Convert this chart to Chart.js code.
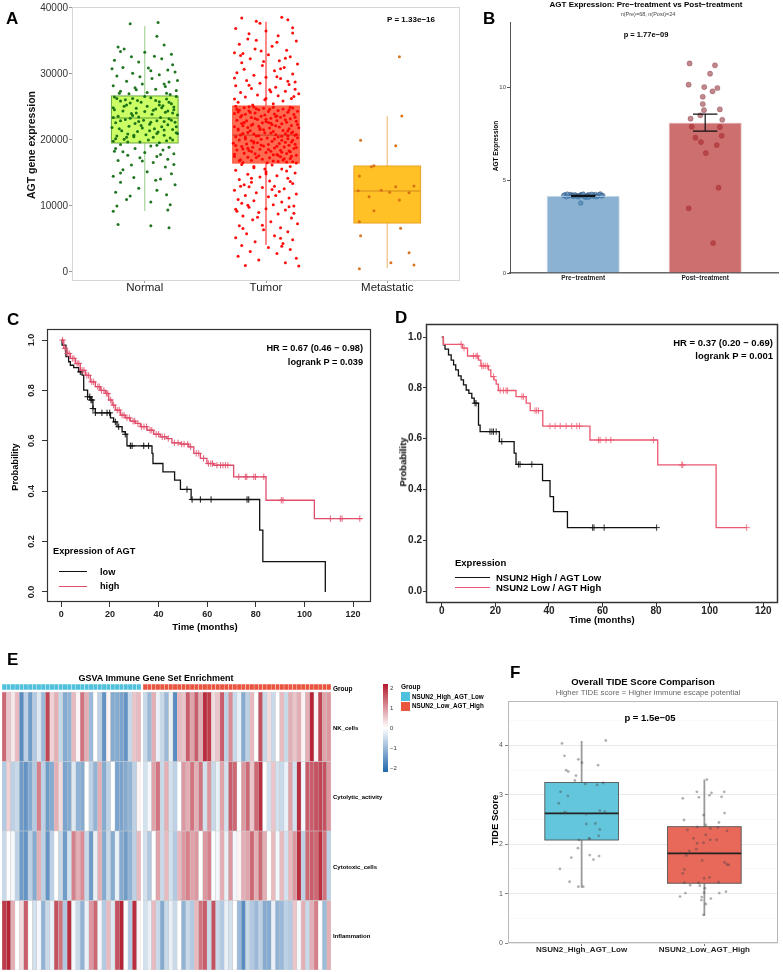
<!DOCTYPE html>
<html>
<head>
<meta charset="utf-8">
<script src="https://cdn.jsdelivr.net/npm/chart.js@4.4.1/dist/chart.umd.min.js"></script>
<style>
  html, body { margin: 0; padding: 0; background: #fff; }
  #fig { position: relative; width: 783px; height: 972px; overflow: hidden; font-family: 'Liberation Sans', Arial, Helvetica, sans-serif; }
  canvas { position: absolute; }
  .t { position: absolute; white-space: nowrap; line-height: 1; }
  .sw { position: absolute; }
</style>
</head>
<body>
<div id="fig"></div>
<script>
'use strict';

// ---------- data ----------
// A: expression by tissue, jitter points are [offset from group centre, value]
var groupsA = ['Normal', 'Tumor', 'Metastatic'];
var yTicksA = [0, 10000, 20000, 30000, 40000];
var aQ1 = [19550, 16500, 7420];
var aMed = [23330, 20750, 12270];
var aQ3 = [26670, 25150, 16060];
var aLo = [9240, 4100, 600];
var aHi = [37270, 37900, 23600];

var normalPts = [[-.12,37600],[.11,37800],[.1,35700],[-.22,34100],[-.17,33800],[-.2,33400],[.0,33300],[.16,34400],[.08,32700],[-.25,32100],[.14,32300],[-.05,31800],[.23,31400],[-.18,31000],[-.27,30800],[.19,30600],[.03,30900],[-.1,30100],[.25,30300],[-.23,29700],[.12,29900],[.06,29300],[-.15,28900],[.2,28800],[-.02,28500],[-.26,28200],[.17,28100],[.09,27700],[-.08,27900],[-.2,27400],[.26,27500],[.02,27200],[-.13,27000],[.21,26900],[-.04,29600],
  [-.25,26500],[-.1,26300],[.05,26400],[.18,26200],[.26,26600],[-.2,25900],[-.03,25700],[.12,25800],[.22,25500],[-.15,25300],[.02,25100],[.15,25200],[-.26,24900],[-.07,24800],[.09,24700],[.24,24600],[-.18,24400],[.0,24300],[.17,24200],[-.11,24000],[.06,23900],[.27,23800],[-.22,23600],[-.05,23500],[.13,23400],[.2,23200],[-.16,23100],[-.01,23000],[.1,22900],[.25,22700],[-.24,22600],[-.08,22500],[.04,22400],[.19,22300],[-.13,22100],[.14,22000],[-.27,21900],[-.02,21800],[.08,21700],[.23,21600],[-.19,21400],[-.06,21300],[.11,21200],[.26,21100],[-.14,20900],[.01,20800],[.16,20700],[-.23,20600],[-.09,20500],[.07,20400],[.21,20300],[-.17,20100],[.03,20000],[.18,19900],[-.26,19800],[-.04,19700],[.12,19600],[.24,25000],[-.12,25600],[.09,26000],[-.2,22900],[.16,21500],[-.07,24100],[.22,23000],[-.24,20200],[.05,22700],[-.1,23700],[.14,24900],[-.16,26100],[.27,21000],
  [-.23,26300],[-.06,26000],[.2,25700],[-.17,25100],[.07,24500],[.23,24100],[-.26,23400],[-.12,23300],[.16,22800],[-.03,22200],[.26,22000],[-.21,21700],[.1,21000],[-.09,20700],[.23,20000],[-.14,19700],[.04,21400],[-.25,24600],[.12,25300],[.0,26600],[-.05,22800],[.19,24400],[-.15,20400],
  [.16,28500],[-.21,27100],[.05,30500],[-.11,32600],[.22,33000],[.18,27100],[-.07,27600],[.27,29000],
  [-.2,19300],[.05,19100],[.2,18900],[-.08,18700],[.15,18500],[-.25,18300],[.0,18100],[.24,17900],[-.14,17700],[.1,17500],[-.04,17300],[.19,17100],[-.22,16900],[.07,16600],[-.11,16200],[.17,15900],[-.18,15500],[.02,15200],[.22,14900],[-.26,14500],[-.09,14300],[.13,14100],[-.2,13600],[.25,13200],[-.05,12700],[.1,12400],[-.24,12100],[.18,11700],[-.15,11000],[.05,10600],[.21,10200],[-.23,10000],[-.26,9200],[.19,9400],[-.22,7200],[.05,7000],[.2,6700],
  [-.18,18200],[.13,17800],[-.02,16800],[.24,16300],[-.2,15000],[.09,13900],[-.12,11500],[-.24,18700],[.1,19200]];

var tumorPts = [[-.2,38500],[.13,38600],[.18,38200],[-.05,37700],[-.25,36900],[.22,37000],[.0,36500],[.1,35800],[-.15,35300],[.25,35000],[-.22,34500],[.05,34200],[-.09,33800],[.17,33600],[-.26,33200],[.02,32900],[.2,32600],[-.13,32300],[.11,32000],[-.2,31700],[.26,31500],[-.03,31300],[.15,31000],[-.18,30700],[.07,30500],[-.24,30200],[.22,30000],[-.1,29800],[.0,29500],[.12,29300],[-.16,29000],[.24,28800],[-.05,28600],[.19,28400],[-.25,28200],[.08,28000],[-.12,27800],[.03,27600],[.16,27400],[-.21,27200],[.27,27000],[-.07,26800],[.1,26700],[-.17,26500],[.21,26300],[-.01,26100],[.14,25900],[-.23,25700],[.06,25500],[-.11,25300],[.18,28900],[-.19,33100],[.09,34800],[-.02,31900],[.23,26600],[-.14,36100],[.04,27300],[-.26,29400],[.16,32400],[-.08,35100],
  [-.08,38000],[.22,36200],[-.21,32800],[.12,30800],[-.14,28300],[.24,27700],[.0,26300],[-.26,26200],[.09,29600],[-.04,33500],
  [-.25,25100],[-.18,24900],[-.1,25000],[-.02,24800],[.06,24950],[.14,24700],[.22,24850],[-.22,24500],[-.14,24400],[-.06,24600],[.02,24300],[.1,24450],[.18,24200],[.26,24350],[-.26,24000],[-.17,23900],[-.09,24100],[-.01,23800],[.07,23950],[.15,23700],[.23,23850],[-.21,23500],[-.12,23400],[-.04,23600],[.04,23300],[.12,23450],[.2,23200],[-.24,23000],[-.16,22900],[-.07,23100],[.0,22800],[.09,22950],[.17,22700],[.25,22850],[-.2,22500],[-.11,22400],[-.03,22600],[.05,22300],[.13,22450],[.21,22200],[-.26,22000],[-.15,21900],[-.06,22100],[.03,21800],[.11,21950],[.19,21700],[.27,21850],[-.23,21500],[-.13,21400],[-.05,21600],[.06,21300],[.14,21450],[.22,21200],[-.19,21000],[-.1,20900],[-.01,21100],[.08,20800],[.16,20950],[.24,20700],[-.25,20500],[-.17,20400],[-.08,20600],[.01,20300],[.1,20450],[.18,20200],[.26,20350],[-.22,20000],[-.12,19900],[-.04,20100],[.05,19800],[.13,19950],[.21,19700],[-.27,19500],[-.16,19400],[-.07,19600],[.02,19300],[.11,19450],[.19,19200],[-.2,19000],[-.11,18900],[-.02,19100],[.07,18800],[.15,18950],[.23,18700],[-.24,18500],[-.14,18400],[-.05,18600],[.04,18300],[.12,18450],[.2,18200],[-.18,18000],[-.09,17900],[.0,18100],[.09,17800],[.17,17950],[.25,17700],[-.26,17500],[-.15,17400],[-.06,17600],[.03,17300],[.12,17450],[.2,17200],[-.21,17000],[-.12,16900],[-.03,17100],[.06,16800],[.14,16950],[.22,16700],[-.19,16600],[.01,16550],[.17,16650],[-.08,24750],[.09,23650],[-.19,22150],[.21,21050],[-.1,19750],[.13,18150],[-.23,24250],[.04,22550],[.18,20650],[-.15,18750],[.0,23150],[.24,19350],[-.05,21750],[.1,17650],
  [-.24,24650],[-.13,24150],[.03,24650],[.19,24550],[-.2,23700],[.08,23550],[.24,23450],[-.09,23250],[.16,23050],[-.18,22650],[.02,22650],[.26,22350],[-.12,22250],[.08,22150],[-.23,21650],[-.02,21550],[.18,21350],[-.15,21150],[.04,21050],[.25,20850],[-.21,20750],[-.06,20650],[.13,20550],[-.17,20150],[.07,20150],[.22,19950],[-.1,19550],[.16,19650],[-.25,19150],[-.04,19250],[.09,19050],[.25,18850],[-.19,18650],[.02,18550],[.19,18350],[-.12,18250],[-.26,17850],[.06,17750],[.21,17550],[-.08,17350],[.15,17150],[-.22,16850],[.1,16750],[-.14,25050],[.2,24950],
  [-.2,16300],[.05,16200],[.2,16000],[-.1,15800],[.13,15600],[-.25,15400],[.0,15200],[.24,15000],[-.15,14800],[.09,14600],[-.05,14400],[.18,14200],[-.22,14000],[.03,13800],[-.12,13600],[.22,13400],[-.18,13200],[.07,13000],[-.03,12800],[.15,12600],[-.26,12400],[.11,12200],[-.08,12000],[.25,11800],[-.17,11600],[.02,11400],[.19,11200],[-.23,11000],[-.1,10800],[.13,10600],[-.2,10400],[.06,10200],[.23,10000],[-.14,9800],[.0,9600],[.16,9400],[-.24,9200],[-.06,9000],[.1,8800],[-.19,8500],[.21,8200],[-.11,7900],[.04,7600],[.26,7300],[-.22,7000],[.12,6700],[-.02,6400],[.18,6100],[-.16,5800],[.07,5500],[-.25,5200],[.22,4900],[-.09,4600],[.14,4300],[-.2,4000],[.02,3700],[.2,3400],[-.13,3100],[.09,2800],[-.23,2400],[.25,2100],[-.06,1800],[.16,1400],[-.17,1000],[.27,900],[.0,14900],[-.14,12900],[.19,9900],[-.07,8300],[.12,5100],
  [-.1,16000],[.17,15300],[-.21,13000],[.08,11600],[-.15,10100],[.23,8900],[-.03,7100],[.13,3900],[-.19,6600],[.05,12500],[.2,13700],[-.25,9500],[-.01,15600],[.25,16500],[-.12,14200]];

var metPts = [[.1,32620],[.12,23640],[-.22,19950],[.07,19140],[-.11,16110],[-.13,15960],[-.23,14550],[-.24,12320],[-.05,12380],[.07,12920],[.22,13030],[.02,12070],[.18,12020],[-.15,11410],[.1,10910],[-.11,9290],[-.23,7620],[.11,6620],[-.22,5500],[.18,2920],[.03,1410],[.22,1060],[-.23,500]];

// B: pre vs post treatment
var groupsB = ['Pre\u2212treatment', 'Post\u2212treatment'];
var bMean = [4.15, 8.09];
var bLow = [4.12, 7.63];
var bHigh = [4.18, 8.55];
var yTicksB = [0, 5, 10];
var prePts = [[-.15,4.2],[-.12,4.14],[-.1,4.22],[-.08,4.12],[-.06,4.18],[-.04,4.1],[-.02,4.2],[0,4.15],[.02,4.08],[.04,4.2],[.06,4.13],[.08,4.18],[.1,4.22],[.12,4.15],[.14,4.25],[.16,4.17],[-.14,4.1],[-.11,4.18],[-.07,4.2],[-.03,4.16],[.01,4.11],[.05,4.19],[.09,4.12],[.13,4.2],[-.13,4.24],[-.09,4.15],[-.05,4.12],[-.01,4.21],[.03,4.14],[.07,4.23],[.11,4.1],[.15,4.14],[-.02,3.76],[-.16,4.16],[0,4.24],[.04,4.06]];
var postPts = [[-.128,11.27],[.08,11.17],[.04,10.72],[-.136,10.13],[-.008,10.0],[.1,9.95],[.06,9.77],[-.02,9.48],[-.02,9.09],[-.01,8.76],[.12,8.8],[-.04,8.48],[-.12,8.3],[.14,8.24],[-.11,7.87],[.12,7.85],[-.08,7.28],[.135,7.38],[-.035,7.04],[.095,6.88],[.005,6.45],[.11,4.59],[-.135,3.48],[.065,1.61]];

// C: KM by AGT expression
var kmTicksX = [0, 20, 40, 60, 80, 100, 120];
var kmTicksY = [0, 0.2, 0.4, 0.6, 0.8, 1];
var cLowT = [0,0.3,1.9,3.0,3.7,5.1,7.1,8.5,9.2,10.8,12.2,13.0,14.0,20.2,21.5,22.9,25.0,26.3,27.0,37.3,37.7,41.8,46.6,49.0,53.4,81.6,82.9,108.6];
var cLowS = [1,0.98,0.934,0.914,0.9,0.891,0.874,0.861,0.801,0.775,0.762,0.728,0.711,0.691,0.675,0.656,0.636,0.626,0.58,0.55,0.51,0.477,0.444,0.407,0.367,0.245,0.12,0];
var cLowCens = [7.8,10.8,11.7,12.2,12.6,13.0,14.0,16.7,18.8,19.9,22.2,23.6,26.3,28.4,29.1,33.9,35.9,51.7,53.8,57.2,61.6,76.4,77.1];
var cHighT = [0,1.0,2.3,3.7,5.8,7.8,9.9,11.9,14.0,16.0,18.1,19.5,20.9,22.2,24.3,26.3,28.4,30.5,32.5,35.3,38.0,40.7,43.5,45.5,49.0,52.4,54.5,57.2,59.9,62.7,70.9,84.2,104.1,123.7];
var cHighS = [1,0.967,0.947,0.927,0.907,0.88,0.86,0.834,0.815,0.80,0.788,0.762,0.742,0.722,0.702,0.691,0.678,0.669,0.656,0.642,0.626,0.616,0.609,0.592,0.587,0.576,0.55,0.53,0.51,0.503,0.457,0.364,0.291,0.291];
var cHighCens = [0.5,1.5,2.5,3.2,4.5,5.2,6.5,7.2,8.5,9.3,10.5,11.2,12.5,13.3,15,15.6,16.5,17.5,18.5,19.1,20.3,21.5,23,23.8,25,25.8,27,28,29.5,30.2,31.5,33,34,35,36.5,37.2,39,40,41.5,42.5,44,46.5,48,49.5,50.5,52,53.2,55.5,56.5,58.5,60.5,61.5,62.2,64,65.5,66.5,67.5,68.5,73,75.7,76.3,79.2,79.9,83.3,90.5,91.2,110.7,114.8,115.5,122.8];

// D: KM by NSUN2/AGT combination
var dLowT = [0,0.6,1.2,2.5,3.5,4.4,5.2,6.2,7.2,8.1,9.1,10.1,11.2,12.1,13.7,14.3,21.5,27.0,27.7,37.6,40.4,41.7,46.9,80.2];
var dLowS = [1,0.97,0.953,0.93,0.91,0.891,0.871,0.848,0.832,0.812,0.792,0.779,0.76,0.74,0.654,0.628,0.589,0.543,0.499,0.435,0.372,0.313,0.25,0.25];
var dLowCens = [12.4,12.8,18.0,18.7,19.3,20.3,22.4,28.6,29.2,33.6,56.3,56.8,60.6,80.2];
var dHighT = [0,0.6,7.7,9.6,13.7,14.6,17.4,18.3,19.5,20.3,21.1,27.7,31.5,33.0,37.7,55.3,80.6,102.4,113.8];
var dHighS = [1,0.972,0.957,0.926,0.91,0.887,0.871,0.845,0.832,0.815,0.79,0.766,0.74,0.711,0.65,0.595,0.497,0.25,0.25];
var dHighCens = [7.2,8.3,11.8,12.8,13.3,14.9,15.5,16.2,17.0,19.3,21.8,23.0,24.0,24.5,29.9,30.5,34.8,35.4,36.1,40.4,42.3,44.2,46.4,48.5,50.4,51.4,58.5,59.1,61.3,63.1,79.0,89.6,89.9,113.8];

// E: GSVA scores, first 32 samples NSUN2_High_AGT_Low, then 44 NSUN2_Low_AGT_High
var heatNames = ['NK_cells', 'Cytolytic_activity', 'Cytotoxic_cells', 'Inflammation'];
var nLowGroup = 32;
var nkCells = [1.3,0.5,0.2,0.6,-1.5,-0.6,-1.3,-0.7,-0.3,-0.9,1.6,0.4,0.7,-0.5,-1.1,-1.0,0.6,0.1,1.2,0.7,-0.9,0.0,-0.6,-1.4,0.1,-1.1,-1.1,-1.2,-1.4,-0.5,0.5,0.6,
  -0.5,-0.9,0.7,-0.2,-0.5,-0.9,-0.2,-1.5,0.6,0.5,1.4,0.8,1.4,0.7,1.8,1.7,0.3,0.5,1.4,-0.6,1.0,-0.5,-0.2,-1.1,-0.6,0.6,0.0,1.5,-0.5,0.3,-0.5,0.0,0.6,-0.5,0.7,0.5,0.7,0.1,0.7,1.9,0.1,1.6,0.8,0.9];
var cytolyticActivity = [-0.7,0.4,-0.6,-0.5,-1.3,-1.4,-1.1,-0.7,1.1,-0.6,-1.3,-1.1,0.7,0.3,-1.2,-1.1,-0.3,-1.0,-1.1,0.0,-0.6,-1.0,0.7,-1.1,-0.6,0.0,-1.2,-1.2,-1.1,-1.0,-0.6,0.1,
  -0.4,-0.1,0.8,1.2,-0.5,0.7,-0.4,-0.6,0.0,0.9,0.7,1.2,0.7,1.2,-0.4,0.9,-0.5,-0.2,0.8,-0.4,1.4,1.3,0.0,0.9,1.3,0.5,1.3,1.8,0.0,-0.4,0.5,-0.4,-0.5,-0.2,0.8,-0.4,1.8,-0.1,1.4,1.4,1.5,1.6,1.5,0.9];
var cytotoxicCells = [-0.5,0.0,-0.1,-0.6,-1.3,-1.4,-0.6,-1.1,0.7,-0.6,-1.4,-0.6,0.0,-0.5,-1.3,-0.4,1.1,0.7,1.0,-0.5,-1.3,-0.2,0.7,-1.1,-0.5,-1.1,-0.2,-1.1,-1.3,-1.0,-0.6,0.6,
  -0.4,-0.7,0.0,0.8,-0.5,0.6,-0.4,-0.7,0.6,0.9,1.1,0.8,0.9,0.0,0.9,1.1,0.0,-0.1,0.7,-0.2,0.9,-0.1,0.1,0.7,0.8,1.3,0.7,1.3,0.7,0.0,0.6,-0.1,0.6,-0.4,0.6,0.9,1.8,-0.6,1.3,1.4,1.3,1.8,1.2,-0.6];
var inflammation = [1.7,1.9,0.7,0.0,0.3,1.4,0.0,-0.4,-0.1,-1.0,-0.5,-0.2,1.5,1.2,-0.7,1.8,-0.1,-0.5,-1.0,-0.2,0.9,1.3,-0.1,-0.7,0.6,-0.3,1.5,1.9,0.0,-0.7,1.8,0.1,
  -0.4,-0.2,0.6,-0.5,-1.1,-0.5,-0.2,-0.5,0.0,-1.0,-0.5,-0.7,0.6,1.2,1.4,-0.5,1.5,-0.5,-0.7,-0.2,-0.4,0.0,-0.9,-1.5,-0.5,-0.7,-0.9,-0.6,-1.1,-1.1,-0.2,-1.0,-0.9,-0.6,-0.7,0.5,-0.1,0.7,-0.5,0.7,1.1,0.0,-0.9,0.7];
var heatRows = [nkCells, cytolyticActivity, cytotoxicCells, inflammation];
var heatLegendTicks = ['2', '1', '0', '\u22121', '\u22122'];

// F: TIDE score
var groupsF = ['NSUN2_High_AGT_Low', 'NSUN2_Low_AGT_High'];
var fQ1 = [2.085, 1.21];
var fMed = [2.625, 1.815];
var fQ3 = [3.25, 2.355];
var fLo = [1.12, 0.553];
var fHi = [4.09, 3.31];
var yTicksF = [0, 0.5, 1, 1.5, 2, 2.5, 3, 3.5, 4, 4.5];
var fLowPts = [[-.16,4.04],[.197,4.10],[-.14,3.79],[-.027,3.72],[.003,3.65],[.134,3.60],[-.126,3.50],[-.109,3.47],[-.046,3.39],[-.055,3.29],[-.172,3.06],[.03,3.22],[.126,3.20],[.175,3.24],[-.112,2.98],[-.186,2.83],[-.14,2.65],[-.175,2.63],[-.126,2.64],[.148,2.68],[.189,2.66],[.038,2.61],[.112,2.42],[.038,2.41],[.148,2.30],[.139,2.17],[.06,2.12],[.066,2.11],[-.022,2.09],[-.03,1.92],[-.084,1.73],[.066,1.78],[.142,1.76],[.096,1.69],[-.177,1.50],[-.098,1.24],[-.027,1.14],[.013,1.14]];
var fHighPts = [[.02,3.31],[-.061,3.06],[.162,3.06],[.058,3.04],[-.176,2.93],[-.045,2.95],[.042,2.99],[.14,2.96],[.165,2.63],[-.007,2.59],[-.166,2.49],[.119,2.44],[.012,2.39],[-.057,2.35],[-.138,2.29],[.05,2.32],[.11,2.34],[.184,2.27],[.012,2.19],[-.089,2.12],[.048,2.09],[.10,2.09],[-.059,2.02],[-.007,2.03],[-.198,1.82],[-.122,1.86],[-.065,1.90],[-.147,1.77],[.039,1.82],[.13,1.82],[.165,1.63],[.184,1.59],[.198,1.58],[-.018,1.67],[-.163,1.49],[-.176,1.41],[.042,1.33],[-.163,1.22],[-.048,1.22],[-.116,1.17],[-.037,1.16],[-.002,1.31],[.116,1.23],[.004,1.11],[-.198,0.94],[-.155,1.01],[-.021,0.93],[.053,0.90],[.121,1.01],[.176,1.04],[-.002,1.02],[-.024,0.87],[.012,0.79],[-.007,0.57]];

// ---------- helpers ----------
var fig = document.getElementById('fig');
var FONT = "'Liberation Sans', Arial, Helvetica, sans-serif";
Chart.defaults.font.family = FONT;

function addText(s, x, y, size, o) {
  o = o || {};
  var d = document.createElement('div');
  d.className = 't';
  d.textContent = s;
  d.style.fontSize = size + 'px';
  d.style.fontWeight = o.bold ? 'bold' : 'normal';
  d.style.color = o.color || '#000';
  d.style.left = x + 'px';
  if (o.rotate) {
    d.style.top = y + 'px';
    d.style.transform = 'translate(-50%,-50%) rotate(-90deg)';
  } else {
    d.style.top = (y - 0.85 * size) + 'px';
    if (o.align === 'center') d.style.transform = 'translateX(-50%)';
    if (o.align === 'right') d.style.transform = 'translateX(-100%)';
  }
  fig.appendChild(d);
}

function addBox(x, y, w, h, bg) {
  var d = document.createElement('div');
  d.className = 'sw';
  d.style.cssText = 'left:' + x + 'px;top:' + y + 'px;width:' + w + 'px;height:' + h + 'px;background:' + bg + ';';
  fig.appendChild(d);
}

function canvasAt(x, y, w, h) {
  var c = document.createElement('canvas');
  c.width = w;
  c.height = h;
  c.style.left = x + 'px';
  c.style.top = y + 'px';
  c.style.width = w + 'px';
  c.style.height = h + 'px';
  fig.appendChild(c);
  return c;
}

function baseOpts(pad, scales) {
  return {
    responsive: false, maintainAspectRatio: false, animation: false, devicePixelRatio: 1,
    layout: { padding: pad },
    plugins: { legend: { display: false }, tooltip: { enabled: false } },
    scales: scales
  };
}

function fixTicks(vals) {
  return function (scale) { scale.ticks = vals.map(function (v) { return { value: v }; }); };
}
function fixWidth(w) { return function (scale) { scale.width = w; }; }
function fixHeight(h) { return function (scale) { scale.height = h; }; }

function framePlugin(color, width) {
  return {
    id: 'frame',
    afterDatasetsDraw: function (chart) {
      var a = chart.chartArea, ctx = chart.ctx;
      ctx.save();
      ctx.strokeStyle = color;
      ctx.lineWidth = width;
      ctx.strokeRect(a.left + 0.5, a.top + 0.5, a.right - a.left - 1, a.bottom - a.top - 1);
      ctx.restore();
    }
  };
}

// box + whisker + median, drawn under the points through the chart scales
function boxPlugin(st) {
  return {
    id: 'boxes',
    beforeDatasetsDraw: function (chart) {
      var ctx = chart.ctx, xs = chart.scales.x, ys = chart.scales.y;
      var hw = xs.getPixelForValue(1 + st.width / 2) - xs.getPixelForValue(1);
      st.q1.forEach(function (q1, i) {
        var cx = xs.getPixelForValue(i + 1);
        var yQ1 = ys.getPixelForValue(q1), yQ3 = ys.getPixelForValue(st.q3[i]), yM = ys.getPixelForValue(st.med[i]);
        ctx.save();
        ctx.strokeStyle = st.whisker[i];
        ctx.lineWidth = st.whiskerWidth;
        ctx.beginPath();
        ctx.moveTo(cx, ys.getPixelForValue(st.lo[i]));
        ctx.lineTo(cx, ys.getPixelForValue(st.hi[i]));
        ctx.stroke();
        ctx.fillStyle = st.fill[i];
        ctx.fillRect(cx - hw, yQ3, 2 * hw, yQ1 - yQ3);
        ctx.strokeStyle = st.stroke[i];
        ctx.lineWidth = st.lineWidth;
        ctx.strokeRect(cx - hw, yQ3, 2 * hw, yQ1 - yQ3);
        ctx.strokeStyle = st.median[i];
        ctx.lineWidth = st.medianWidth;
        ctx.beginPath();
        ctx.moveTo(cx - hw, yM);
        ctx.lineTo(cx + hw, yM);
        ctx.stroke();
        ctx.restore();
      });
    }
  };
}

function jitterSet(list, center, color, r, border) {
  return {
    type: 'scatter',
    data: list.map(function (p) { return { x: center + p[0], y: p[1] }; }),
    pointRadius: r,
    backgroundColor: color, pointBackgroundColor: color,
    borderColor: border || color, pointBorderColor: border || color,
    pointBorderWidth: border ? 0.6 : 0, borderWidth: border ? 0.6 : 0
  };
}

function survAt(ts, ss, t) {
  var s = ss[0];
  for (var i = 0; i < ts.length; i++) { if (ts[i] <= t) s = ss[i]; }
  return s;
}
function stepSet(ts, ss, color) {
  return {
    type: 'line',
    data: ts.map(function (t, i) { return { x: t, y: ss[i] }; }),
    borderColor: color, borderWidth: 1.3, stepped: true, pointRadius: 0, fill: false
  };
}
function censorSet(cs, ts, ss, color) {
  return {
    type: 'scatter',
    data: cs.map(function (t) { return { x: t, y: survAt(ts, ss, t) }; }),
    pointStyle: 'cross', pointRadius: 3.2,
    borderColor: color, pointBorderColor: color, pointBorderWidth: 1, borderWidth: 1
  };
}

function heatColor(v) {
  var k = Math.min(1, Math.abs(v) / 2);
  var a = v < 0 ? [33, 102, 172] : [178, 24, 43];
  return 'rgb(' + a.map(function (c) { return Math.round(255 + (c - 255) * k); }).join(',') + ')';
}

var tickFont = function (size, bold) { return { size: size, weight: bold ? 'bold' : 'normal', lineHeight: 1 }; };

// ---------- A ----------
new Chart(canvasAt(0, 0, 465, 300), {
  type: 'scatter',
  data: { datasets: [
    jitterSet(normalPts, 1, 'rgba(20,110,20,0.95)', 1.5),
    jitterSet(tumorPts, 2, 'rgba(255,0,0,0.95)', 1.5),
    jitterSet(metPts, 3, 'rgba(215,110,20,0.95)', 1.5)
  ] },
  options: baseOpts({ top: 7, right: 5, left: 0, bottom: 0 }, {
    x: { type: 'linear', min: 0.4, max: 3.6, offset: false, afterBuildTicks: fixTicks([1, 2, 3]), afterFit: fixHeight(19),
      ticks: { callback: function (v, i) { return groupsA[i]; }, font: tickFont(11.5), color: '#1a1a1a', padding: -1, autoSkip: false, maxRotation: 0 },
      grid: { drawOnChartArea: false, tickLength: 2, color: '#999' }, border: { display: false } },
    y: { min: -1364, max: 40150, afterBuildTicks: fixTicks(yTicksA), afterFit: fixWidth(72),
      ticks: { callback: function (v) { return String(v); }, font: tickFont(10), color: '#333', padding: 1, autoSkip: false },
      grid: { drawOnChartArea: false, tickLength: 3, color: '#999' }, border: { display: false } }
  }),
  plugins: [boxPlugin({
    q1: aQ1, med: aMed, q3: aQ3, lo: aLo, hi: aHi, width: 0.55,
    fill: ['#ccff66', '#ff6a50', '#ffc125'],
    stroke: ['#6aaa3a', '#ff5a40', '#e9a224'],
    median: ['#5f9e35', '#d8402a', '#d08a1c'],
    whisker: ['#a9d49a', '#ff3b3b', '#f0c080'],
    whiskerWidth: 1.2, lineWidth: 1, medianWidth: 1.2
  }), framePlugin('#d6d6d6', 1)]
});

// ---------- B ----------
new Chart(canvasAt(480, 0, 303, 290), {
  type: 'bar',
  data: { datasets: [
    { type: 'bar', data: bMean.map(function (m, i) { return { x: i + 1, y: m }; }),
      backgroundColor: ['rgba(70,130,180,0.62)', 'rgba(178,34,34,0.65)'],
      borderColor: ['#cfe0ee', '#ecc8c9'], borderWidth: 1, barPercentage: 0.6, categoryPercentage: 1 },
    jitterSet(prePts, 1, 'rgba(95,145,195,0.75)', 2.3, 'rgba(35,70,110,0.85)'),
    jitterSet(postPts, 2, 'rgba(150,55,65,0.6)', 2.6, 'rgba(120,40,50,0.5)')
  ] },
  options: baseOpts({ top: 22, right: 0, left: 0, bottom: 0 }, {
    x: { type: 'linear', min: 0.4, max: 2.6, offset: false, afterBuildTicks: fixTicks([1, 2]), afterFit: fixHeight(17),
      ticks: { callback: function (v, i) { return groupsB[i]; }, font: tickFont(6.5, true), color: '#222', padding: 2, autoSkip: false, maxRotation: 0 },
      grid: { display: false, drawTicks: false, offset: false }, border: { display: true, color: '#666', width: 1.5 } },
    y: { min: 0, max: 13.5, afterBuildTicks: fixTicks(yTicksB), afterFit: fixWidth(30),
      ticks: { font: tickFont(6), color: '#444', padding: 1, autoSkip: false },
      grid: { drawOnChartArea: false, tickLength: 3, color: '#555' }, border: { display: true, color: '#555', width: 1 } }
  }),
  plugins: [{
    id: 'errbars',
    afterDatasetsDraw: function (chart) {
      var ctx = chart.ctx, xs = chart.scales.x, ys = chart.scales.y;
      var cw = xs.getPixelForValue(1.1) - xs.getPixelForValue(1);
      bMean.forEach(function (m, i) {
        var cx = xs.getPixelForValue(i + 1), yl = ys.getPixelForValue(bLow[i]), yh = ys.getPixelForValue(bHigh[i]);
        ctx.save();
        ctx.strokeStyle = '#111';
        ctx.lineWidth = 1.2;
        ctx.beginPath();
        ctx.moveTo(cx, yl); ctx.lineTo(cx, yh);
        ctx.moveTo(cx - cw, yl); ctx.lineTo(cx + cw, yl);
        ctx.moveTo(cx - cw, yh); ctx.lineTo(cx + cw, yh);
        ctx.stroke();
        ctx.restore();
      });
    }
  }]
});

// ---------- C ----------
var redC = 'rgb(224,78,108)';
new Chart(canvasAt(0, 305, 390, 330), {
  type: 'line',
  data: { datasets: [
    stepSet(cHighT, cHighS, redC), censorSet(cHighCens, cHighT, cHighS, 'rgba(226,84,112,0.9)'),
    stepSet(cLowT, cLowS, '#111'), censorSet(cLowCens, cLowT, cLowS, '#111')
  ] },
  options: baseOpts({ top: 24, right: 19, left: 0, bottom: 0 }, {
    x: { type: 'linear', min: -5.9, max: 127.4, afterBuildTicks: fixTicks(kmTicksX), afterFit: fixHeight(33),
      ticks: { callback: function (v) { return String(v); }, font: tickFont(9, true), color: '#222', padding: 3, autoSkip: false, maxRotation: 0 },
      grid: { drawOnChartArea: false, tickLength: 5, color: '#333' }, border: { display: false } },
    y: { min: -0.04, max: 1.044, afterBuildTicks: fixTicks(kmTicksY), afterFit: fixWidth(47),
      ticks: { callback: function (v) { return v.toFixed(1); }, font: tickFont(9, true), color: '#222', padding: 4,
        minRotation: 90, maxRotation: 90, crossAlign: 'center', autoSkip: false },
      grid: { drawOnChartArea: false, tickLength: 5, color: '#333' }, border: { display: false } }
  }),
  plugins: [framePlugin('#333', 1.2)]
});

// ---------- D ----------
var redD = 'rgb(236,88,112)';
new Chart(canvasAt(390, 305, 393, 325), {
  type: 'line',
  data: { datasets: [
    stepSet(dHighT, dHighS, redD), censorSet(dHighCens, dHighT, dHighS, 'rgba(238,100,120,0.85)'),
    stepSet(dLowT, dLowS, '#111'), censorSet(dLowCens, dLowT, dLowS, '#333')
  ] },
  options: baseOpts({ top: 19, right: 5, left: 0, bottom: 0 }, {
    x: { type: 'linear', min: -5.9, max: 125.5, afterBuildTicks: fixTicks(kmTicksX), afterFit: fixHeight(27),
      ticks: { callback: function (v) { return String(v); }, font: tickFont(10, true), color: '#222', padding: -0.5, autoSkip: false, maxRotation: 0 },
      grid: { drawOnChartArea: false, tickLength: 4, color: '#333' }, border: { display: false } },
    y: { min: -0.047, max: 1.052, afterBuildTicks: fixTicks(kmTicksY), afterFit: fixWidth(36),
      ticks: { callback: function (v) { return v.toFixed(1); }, font: tickFont(10, true), color: '#222', padding: 1, autoSkip: false },
      grid: { drawOnChartArea: false, tickLength: 3, color: '#333' }, border: { display: false } }
  }),
  plugins: [framePlugin('#333', 1.5)]
});

// ---------- E ----------
function heatChart(cv, start, end, groupColor) {
  var cols = heatRows[0].slice(start, end).map(function (v, i) { return String(i); });
  var sets = heatRows.map(function (row, r) {
    return {
      data: cols.map(function () { return [3 - r, 4 - r]; }),
      backgroundColor: row.slice(start, end).map(heatColor),
      borderColor: 'rgba(150,150,150,0.4)', borderWidth: 0.5, borderSkipped: false,
      barPercentage: 1, categoryPercentage: 1, grouped: false
    };
  });
  sets.push({
    data: cols.map(function () { return [4.03, 4.115]; }),
    backgroundColor: groupColor, borderColor: 'rgba(255,255,255,0.45)', borderWidth: 0.5, borderSkipped: false,
    barPercentage: 1, categoryPercentage: 1, grouped: false
  });
  return new Chart(cv, {
    type: 'bar',
    data: { labels: cols, datasets: sets },
    options: baseOpts(0, { x: { display: false }, y: { display: false, min: 0, max: 4.115 } })
  });
}
heatChart(canvasAt(2, 684, 139, 286), 0, nLowGroup, '#4fc1dd');
heatChart(canvasAt(143, 684, 188, 286), nLowGroup, heatRows[0].length, '#e9553f');

// ---------- F ----------
new Chart(canvasAt(490, 695, 293, 277), {
  type: 'scatter',
  data: { datasets: [
    jitterSet(fLowPts, 1, 'rgba(70,70,70,0.42)', 1.4),
    jitterSet(fHighPts, 2, 'rgba(70,70,70,0.42)', 1.4)
  ] },
  options: baseOpts({ top: 6, right: 5, left: 0, bottom: 0 }, {
    x: { type: 'linear', min: 0.4, max: 2.6, afterBuildTicks: fixTicks([1, 2]), afterFit: fixHeight(29),
      ticks: { callback: function (v, i) { return groupsF[i]; }, font: tickFont(8, true), color: '#222', padding: -0.7, autoSkip: false, maxRotation: 0 },
      grid: { drawOnChartArea: false, tickLength: 3, color: '#777' }, border: { display: false } },
    y: { min: 0, max: 4.9, afterBuildTicks: fixTicks(yTicksF), afterFit: fixWidth(18),
      ticks: { callback: function (v) { return Number.isInteger(v) ? String(v) : ''; }, font: tickFont(7), color: '#555', padding: 2, autoSkip: false },
      grid: {
        color: function (c) { return Number.isInteger(c.tick.value) ? '#e6e6e6' : '#f3f3f3'; },
        lineWidth: function (c) { return Number.isInteger(c.tick.value) ? 0.9 : 0.5; },
        tickColor: function (c) { return Number.isInteger(c.tick.value) ? '#777' : 'rgba(0,0,0,0)'; },
        tickLength: 3
      }, border: { display: false } }
  }),
  plugins: [boxPlugin({
    q1: fQ1, med: fMed, q3: fQ3, lo: fLo, hi: fHi, width: 0.6,
    fill: ['#63c6dd', '#e8685a'], stroke: ['#555', '#555'], median: ['#222', '#222'], whisker: ['#9a9a9a', '#9a9a9a'],
    whiskerWidth: 1.8, lineWidth: 0.9, medianWidth: 1.6
  }), framePlugin('#b8b8b8', 1)]
});

// ---------- text ----------
addText('A', 6, 24, 17, { bold: true });
addText('AGT gene expression', 31, 145, 10.5, { bold: true, rotate: true, color: '#111' });
addText('P = 1.33e\u221216', 411, 23, 8, { bold: true, align: 'center' });

addText('B', 483, 24, 17, { bold: true });
addText('AGT Expression: Pre\u2212treatment vs Post\u2212treatment', 646, 8, 8, { bold: true, align: 'center' });
addText('n(Pre)=68, n(Post)=24', 648, 17, 5.5, { align: 'center', color: '#444' });
addText('p = 1.77e\u221209', 646, 37.5, 7.5, { bold: true, align: 'center' });
addText('AGT Expression', 496, 146, 6.5, { bold: true, rotate: true });

addText('C', 7, 325, 17, { bold: true });
addText('HR = 0.67 (0.46 \u2212 0.98)', 363, 352, 9.2, { bold: true, align: 'right' });
addText('logrank P = 0.039', 363, 366, 9.2, { bold: true, align: 'right' });
addText('Expression of AGT', 53, 555, 9.2, { bold: true });
addBox(59, 571, 28, 1.3, '#111');
addText('low', 100, 575.5, 9.2, { bold: true });
addBox(59, 585.5, 28, 1.3, redC);
addText('high', 100, 590, 9.2, { bold: true });
addText('Probability', 16, 467, 9.2, { bold: true, rotate: true });
addText('Time (months)', 205, 630, 9.5, { bold: true, align: 'center' });

addText('D', 395, 323, 17, { bold: true });
addText('HR = 0.37 (0.20 \u2212 0.69)', 773, 346, 9.5, { bold: true, align: 'right' });
addText('logrank P = 0.001', 773, 359, 9.5, { bold: true, align: 'right' });
addText('Expression', 455, 566, 9.5, { bold: true });
addBox(455, 576.5, 35, 1.3, '#111');
addText('NSUN2 High / AGT Low', 496, 581, 9.5, { bold: true });
addBox(455, 586.5, 35, 1.3, redD);
addText('NSUN2 Low / AGT High', 496, 591, 9.5, { bold: true });
addText('Probability', 403, 462, 9.5, { bold: true, rotate: true });
addText('Time (months)', 602, 623, 9.5, { bold: true, align: 'center' });

addText('E', 7, 665, 17, { bold: true });
addText('GSVA Immune Gene Set Enrichment', 156, 682, 9, { bold: true, align: 'center' });
addText('Group', 333, 692, 6.5, { bold: true });
var rowBase = [730, 799.5, 869, 938.5];
heatNames.forEach(function (nm, i) { addText(nm, 333, rowBase[i], 6, { bold: true }); });
addBox(383, 684, 5, 88, 'linear-gradient(to bottom, rgb(178,24,43), #ffffff 50%, rgb(33,102,172))');
heatLegendTicks.forEach(function (s, i) { addText(s, 390, 690 + 20 * i, 6, { color: '#333' }); });
addText('Group', 401, 690, 6.5, { bold: true });
addBox(401, 692, 9, 9, '#4fc1dd');
addText('NSUN2_High_AGT_Low', 412, 699.5, 6.3, { bold: true });
addBox(401, 702, 9, 9, '#e9553f');
addText('NSUN2_Low_AGT_High', 412, 708.5, 6.3, { bold: true });

addText('F', 510, 678, 17, { bold: true });
addText('Overall TIDE Score Comparison', 643, 685, 9.5, { bold: true, align: 'center' });
addText('Higher TIDE score = Higher immune escape potential', 648, 695.5, 7.8, { align: 'center', color: '#666' });
addText('p = 1.5e\u221205', 650, 721, 9.5, { bold: true, align: 'center' });
addText('TIDE Score', 495, 820, 9.5, { bold: true, rotate: true });
</script>
</body>
</html>
